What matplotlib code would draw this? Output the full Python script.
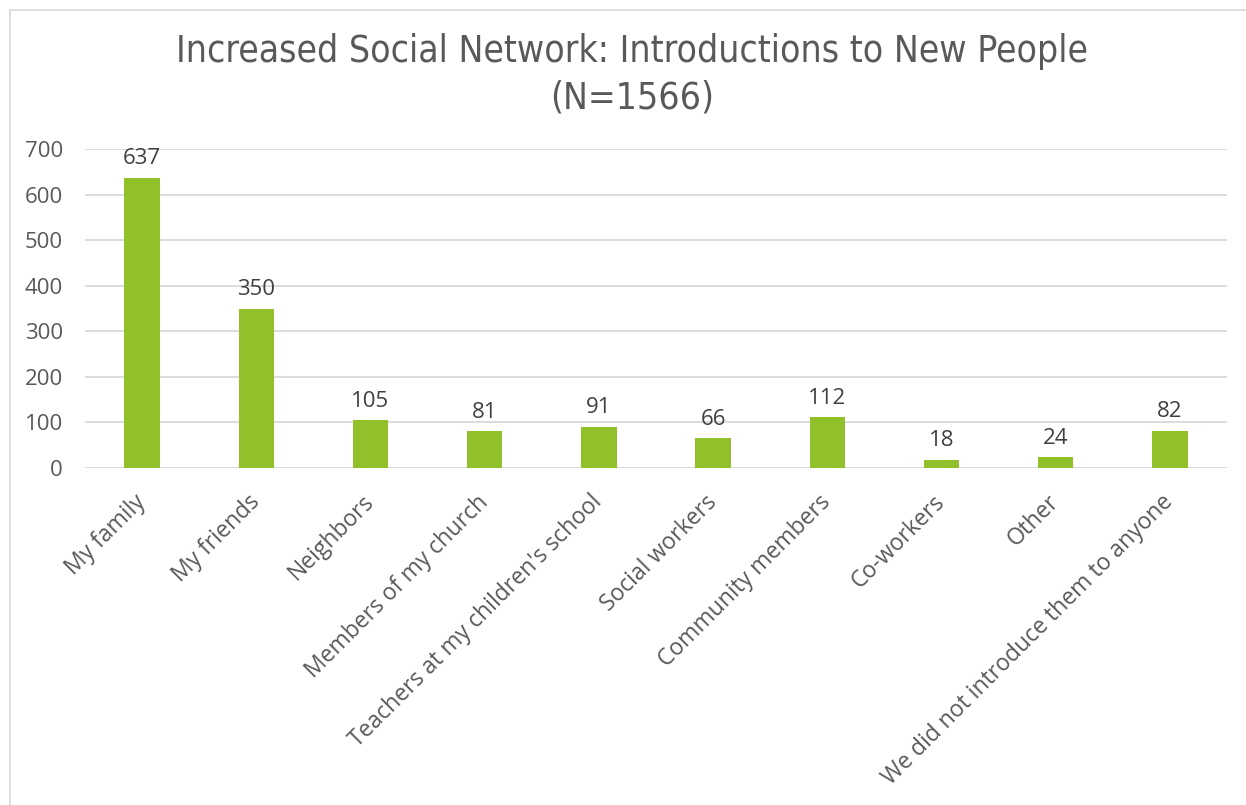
import matplotlib.pyplot as plt
from matplotlib.patches import Rectangle

categories = ["My family", "My friends", "Neighbors", "Members of my church",
              "Teachers at my children's school", "Social workers",
              "Community members", "Co-workers", "Other",
              "We did not introduce them to anyone"]
counts = [637, 350, 105, 81, 91, 66, 112, 18, 24, 82]
y_ticks = [0, 100, 200, 300, 400, 500, 600, 700]

GREEN = "#92C02A"
TEXT = "#595959"
GRID = "#D9D9D9"

plt.rcParams['font.family'] = ['Open Sans', 'DejaVu Sans']

fig = plt.figure(figsize=(12.46, 8.05), dpi=100)
ax = fig.add_axes([0.0682, 0.4186, 0.9166, 0.3963])

# light frame around the chart area
fig.patches.append(Rectangle((10 / 1246, -0.1), 1.2, (805 - 10) / 805 + 0.1,
                             transform=fig.transFigure, fill=False,
                             edgecolor=GRID, linewidth=1.2))

x = range(len(categories))
bars = ax.bar(x, counts, width=0.31, color=GREEN, zorder=3)
ax.bar_label(bars, labels=[str(c) for c in counts], padding=6,
             fontsize=16, color="#404040")

ax.set_xlim(-0.5, len(categories) - 0.5)
ax.set_ylim(0, 700)
ax.set_yticks(y_ticks)
ax.yaxis.grid(True, color=GRID, linewidth=1.3, zorder=0)
ax.tick_params(axis='y', length=0, labelsize=16, labelcolor=TEXT, pad=16)
ax.tick_params(axis='x', length=0, pad=22)
ax.set_xticks(list(x))
ax.set_xticklabels(categories, rotation=45, ha='right', va='center',
                   rotation_mode='anchor', fontsize=16.5, color=TEXT)
for side in ['top', 'right', 'left', 'bottom']:
    ax.spines[side].set_visible(False)

fig.text(0.507, 0.907, "Increased Social Network: Introductions to New People\n(N=1566)",
         ha='center', va='center', fontsize=26.7, color=TEXT, linespacing=1.35,
         family=['DejaVu Sans'], fontstretch='condensed')

fig.savefig("out.png", dpi=100)
